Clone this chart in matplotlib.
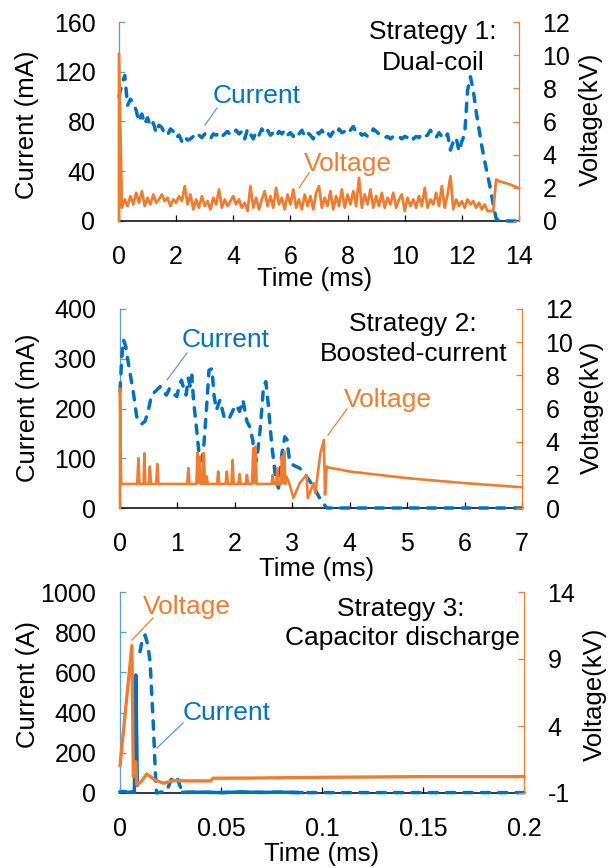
import numpy as np
import matplotlib
matplotlib.use('Agg')
import matplotlib.pyplot as plt
from matplotlib.lines import Line2D

plt.rcParams['font.family'] = ['Liberation Sans', 'DejaVu Sans']
plt.rcParams['axes.unicode_minus'] = False

BLUE = '#0070C0'
LBLUE = '#5B9BD5'
ORANGE = '#ED7D31'

W, H = 610, 868

# ---- Strategy 1: dual-coil (time in ms, current mA, voltage kV)
t1 = np.round(np.arange(0, 14.01, 0.1), 2)
cur1 = [100, 110, 117, 93, 98, 95, 89, 80, 86, 78,
        83, 76, 79, 71, 77, 75, 70, 69, 74, 72,
        67, 69, 64, 68, 65, 66, 68, 66, 69, 67,
        70, 68, 66, 70, 69, 71, 68, 70, 72, 69,
        71, 73, 70, 72, 66, 74, 70, 66, 72, 69,
        74, 70, 73, 69, 71, 68, 72, 70, 73, 69,
        71, 68, 72, 70, 73, 68, 71, 69, 66, 72,
        70, 73, 69, 71, 68, 72, 70, 74, 71, 72,
        70, 73, 76, 71, 72, 69, 70, 68, 69, 74,
        72, 70, 69, 67, 68, 66, 68, 67, 68, 66,
        68, 67, 69, 66, 68, 67, 70, 68, 69, 73,
        69, 67, 71, 68, 66, 70, 57, 64, 67, 56,
        64, 70, 105, 116, 105, 88, 74, 60, 48, 37,
        26, 13, 2, 0, 0, 0, 0, 0, 0, 0, 0]
volt1 = [10.1, 0.8, 1.3, 0.9, 1.5, 1.0, 1.7, 1.1, 1.8, 0.9,
         1.4, 1.0, 1.6, 1.1, 1.3, 1.6, 1.2, 1.4, 0.9, 1.3,
         1.1, 1.5, 1.2, 2.1, 1.0, 1.6, 0.7, 1.3, 0.8, 1.5,
         0.9, 1.2, 0.7, 1.4, 1.0, 1.9, 0.8, 1.3, 0.9, 1.2,
         1.5, 1.0, 1.3, 0.8, 1.1, 0.6, 2.1, 0.8, 1.4, 0.7,
         1.3, 1.8, 0.9, 1.5, 0.8, 2.0, 1.0, 1.4, 0.7, 1.6,
         1.0, 1.9, 0.8, 1.3, 0.7, 1.6, 0.9, 1.5, 0.7, 1.7,
         2.1, 0.8, 1.4, 0.9, 1.8, 0.7, 1.5, 0.9, 1.9, 0.8,
         1.6, 1.0, 1.8, 0.9, 2.6, 0.8, 1.6, 1.0, 1.9, 0.8,
         1.5, 0.9, 1.7, 0.8, 1.4, 1.0, 1.7, 0.8, 1.3, 1.6,
         0.6, 1.4, 0.9, 1.3, 0.8, 1.5, 0.9, 2.0, 0.8, 1.3,
         1.0, 1.7, 0.9, 2.1, 0.8, 1.6, 2.7, 0.7, 1.3, 0.9,
         1.2, 0.8, 1.3, 1.0, 1.2, 0.8, 1.1, 0.7, 1.0, 0.6,
         0.6, 0.6, 2.5, 2.4, 2.35, 2.3, 2.25, 2.2, 2.12, 2.05, 1.97]

# ---- Strategy 2: boosted-current
t2c = [0, 0.03, 0.06, 0.1, 0.145, 0.23, 0.29, 0.34, 0.38, 0.44,
       0.5, 0.55, 0.62, 0.7, 0.76, 0.81, 0.86, 0.9, 0.95, 0.99,
       1.03, 1.07, 1.11, 1.15, 1.19, 1.22, 1.25, 1.28, 1.335, 1.375,
       1.41, 1.45, 1.5, 1.55, 1.6, 1.64, 1.68, 1.74, 1.81, 1.89,
       1.97, 2.03, 2.08, 2.14, 2.21, 2.26, 2.31, 2.34, 2.38, 2.44,
       2.5, 2.54, 2.58, 2.64, 2.7, 2.76, 2.82, 2.87, 2.91, 2.95,
       3.02, 3.13, 3.25, 3.37, 3.48, 3.6, 7.0]
cur2 = [235, 300, 338, 325, 291, 234, 184, 172, 169, 175,
        200, 227, 235, 244, 232, 227, 240, 237, 228, 224,
        245, 257, 240, 227, 261, 245, 267, 217, 157, 110,
        95, 110, 190, 277, 280, 224, 197, 217, 184, 177,
        197, 207, 194, 217, 174, 163, 137, 110, 95, 157,
        244, 254, 210, 130, 70, 40, 110, 143, 137, 96,
        86, 80, 63, 43, 19, 0, 0]
t2v = [0, 0, 0.02, 0.3, 0.32, 0.34, 0.41, 0.425, 0.44, 0.5,
       0.52, 0.54, 0.63, 0.65, 0.67, 1.17, 1.19, 1.21, 1.33, 1.35,
       1.37, 1.39, 1.41, 1.44, 1.46, 1.48, 1.5, 1.51, 1.53, 1.69,
       1.71, 1.73, 1.84, 1.86, 1.88, 1.94, 1.96, 1.98, 2.06, 2.08,
       2.10, 2.19, 2.21, 2.23, 2.3, 2.32, 2.34, 2.36, 2.38, 2.40,
       2.64, 2.66, 2.68, 2.72, 2.74, 2.76, 2.8, 2.82, 2.84, 2.86,
       2.88, 2.9, 2.95, 3.02, 3.13, 3.25, 3.27, 3.37, 3.40, 3.49,
       3.55, 3.57, 3.60, 3.62, 4.0, 5.0, 6.0, 7.0]
volt2 = [0, 7.2, 1.45, 1.45, 3.0, 1.45, 1.45, 3.3, 1.45, 1.45,
         2.5, 1.45, 1.45, 2.65, 1.45, 1.45, 2.4, 1.45, 1.45, 3.35,
         1.5, 3.1, 1.45, 1.45, 3.3, 1.45, 1.45, 1.9, 1.45, 1.45,
         2.2, 1.45, 1.45, 2.2, 1.45, 1.45, 2.9, 1.45, 1.45, 2.05,
         1.45, 1.45, 2.0, 1.45, 1.45, 3.6, 1.5, 3.7, 1.45, 1.45,
         1.45, 2.0, 1.45, 1.45, 2.4, 1.4, 1.45, 3.1, 1.5, 3.4,
         1.45, 1.9, 1.45, 0.6, 1.5, 2.0, 0.6, 1.5, 0.9, 3.3,
         4.1, 0.8, 2.5, 2.45, 2.2, 1.8, 1.5, 1.25]

# ---- Strategy 3: capacitor discharge (current in A)
t3c = [0, 0.002, 0.004, 0.006, 0.0071, 0.0078, 0.0086, 0.0099, 0.0112, 0.0124,
       0.0137, 0.0149, 0.0165, 0.0177, 0.0181, 0.0231, 0.0256, 0.0272, 0.0282, 0.0295,
       0.031, 0.04, 0.05, 0.06, 0.07, 0.08, 0.09, 0.2]
cur3 = [5, 8, 3, 6, 4, 587, 40, 703, 770, 786,
        740, 653, 338, 56, 0, 10, 73, 81, 78, 40,
        3, 4, 2, 5, 3, 4, 2, 2]
t3v = [0, 0.0059, 0.0066, 0.0078, 0.0083, 0.0104, 0.0132, 0.0173, 0.0215, 0.0264,
       0.035, 0.045, 0.046, 0.07, 0.1, 0.15, 0.2]
volt3 = [1.04, 10.0, 0.22, 1.34, -0.4, -0.16, 0.42, -0.03, -0.27, -0.08,
         -0.1, -0.1, 0.1, 0.12, 0.17, 0.22, 0.22]

t1v = np.concatenate([[0], t1])
volt1 = [0] + volt1


def fx(x):
    return x / W


def fy(y):
    return 1 - y / H


fig = plt.figure(figsize=(W / 100, H / 100), dpi=100)


def make_axes(l, r, top, bot):
    ax = fig.add_axes([fx(l), fy(bot), (r - l) / W, (bot - top) / H])
    ax2 = ax.twinx()
    ax.spines['top'].set_visible(False)
    ax.spines['right'].set_visible(False)
    ax.spines['left'].set_color(LBLUE)
    ax.spines['left'].set_linewidth(0.9)
    ax.spines['bottom'].set_color('black')
    ax.spines['bottom'].set_linewidth(1.1)
    for s in ['top', 'left', 'bottom']:
        ax2.spines[s].set_visible(False)
    ax2.spines['right'].set_color(ORANGE)
    ax2.spines['right'].set_linewidth(0.9)
    ax.tick_params(axis='y', direction='in', length=4.3, width=0.9, color=LBLUE,
                   labelsize=18, pad=17)
    ax.tick_params(axis='x', direction='in', length=4.3, width=0.9, color='black',
                   labelsize=18, pad=17)
    ax2.tick_params(axis='y', direction='in', length=4.3, width=0.9, color=ORANGE,
                    labelsize=18, pad=17)
    return ax, ax2


def plot_current(ax, t, c):
    ax.plot(t, c, color=BLUE, lw=2.5, linestyle=(0, (2.4, 2.6)),
            dash_capstyle='round', clip_on=False, zorder=3)


def plot_voltage(ax2, t, v, lw=1.9):
    ax2.plot(t, v, color=ORANGE, lw=lw, clip_on=False, zorder=3)


def label_text(s, cx, base, color, size=19):
    fig.text(fx(cx), fy(base), s, ha='center', va='baseline', fontsize=size, color=color)


def connector(x0, y0, x1, y1, color):
    fig.add_artist(Line2D([fx(x0), fx(x1)], [fy(y0), fy(y1)], transform=fig.transFigure,
                          color=color, lw=0.9))


# panel 1
ax, ax2 = make_axes(119, 519, 22, 221)
plot_current(ax, t1, cur1)
plot_voltage(ax2, t1v, volt1, lw=2.0)
ax.set_xlim(0, 14)
ax.set_xticks(range(0, 15, 2))
ax.set_ylim(0, 160)
ax.set_yticks(range(0, 161, 40))
ax2.set_ylim(0, 12)
ax2.set_yticks(range(0, 13, 2))
ax.set_xlabel('Time (ms)', fontsize=18.5)
ax.xaxis.set_label_coords(0.49, -0.232)
ax.set_ylabel('Current (mA)', fontsize=18.5)
ax.yaxis.set_label_coords(-0.199, 0.482)
ax2.set_ylabel('Voltage(kV)', fontsize=18.5)
ax2.yaxis.set_label_coords(1.15, 0.513)
label_text('Strategy 1:', 433, 39.5, 'black')
label_text('Dual-coil', 433, 69.5, 'black')
label_text('Current', 257, 103, BLUE)
connector(205, 125, 217, 108, LBLUE)
label_text('Voltage', 348, 171, ORANGE)
connector(299, 188, 309, 173, ORANGE)

# panel 2
ax, ax2 = make_axes(120, 522, 309, 508)
plot_current(ax, t2c, cur2)
plot_voltage(ax2, t2v, volt2)
ax.set_xlim(0, 7)
ax.set_xticks(range(0, 8))
ax.set_ylim(0, 400)
ax.set_yticks(range(0, 401, 100))
ax2.set_ylim(0, 12)
ax2.set_yticks(range(0, 13, 2))
ax.set_xlabel('Time (ms)', fontsize=18.5)
ax.xaxis.set_label_coords(0.49, -0.245)
ax.set_ylabel('Current (mA)', fontsize=18.5)
ax.yaxis.set_label_coords(-0.200, 0.505)
ax2.set_ylabel('Voltage(kV)', fontsize=18.5)
ax2.yaxis.set_label_coords(1.144, 0.505)
label_text('Strategy 2:', 413, 330.7, 'black')
label_text('Boosted-current', 414, 360.7, 'black')
label_text('Current', 225.5, 347, BLUE)
connector(167, 380, 187, 353, LBLUE)
label_text('Voltage', 388, 406.7, ORANGE)
connector(328, 435, 347, 409, ORANGE)

# panel 3
ax, ax2 = make_axes(120, 524, 592, 793)
t3c_a = np.array(t3c)
cur3_a = np.array(cur3)
early = t3c_a <= 0.0086
tail = (t3c_a >= 0.031) & (t3c_a <= 0.09)
ax.plot(t3c_a[early], cur3_a[early], color=BLUE, lw=2.5, clip_on=False, zorder=3)
ax.plot(t3c_a[tail], cur3_a[tail], color=BLUE, lw=2.5, clip_on=False, zorder=3)
plot_current(ax, t3c_a[~early], cur3_a[~early])
plot_voltage(ax2, t3v, volt3, lw=2.4)
ax.set_xlim(0, 0.2)
ax.set_xticks([0, 0.05, 0.1, 0.15, 0.2])
ax.set_xticklabels(['0', '0.05', '0.1', '0.15', '0.2'])
ax.set_ylim(0, 1000)
ax.set_yticks(range(0, 1001, 200))
ax2.set_ylim(-1, 14)
ax2.set_yticks([-1, 4, 9, 14])
ax.set_xlabel('Time (ms)', fontsize=18.5)
ax.xaxis.set_label_coords(0.499, -0.245)
ax.set_ylabel('Current (A)', fontsize=18.5)
ax.yaxis.set_label_coords(-0.199, 0.542)
ax2.set_ylabel('Voltage(kV)', fontsize=18.5)
ax2.yaxis.set_label_coords(1.145, 0.49)
label_text('Strategy 3:', 401, 616, 'black')
label_text('Capacitor discharge', 402, 645, 'black')
label_text('Voltage', 186.5, 614, ORANGE)
connector(132, 640, 153, 618, ORANGE)
label_text('Current', 226.5, 720.5, BLUE)
connector(157, 748, 183, 723, LBLUE)

fig.savefig('out.png', dpi=100)
